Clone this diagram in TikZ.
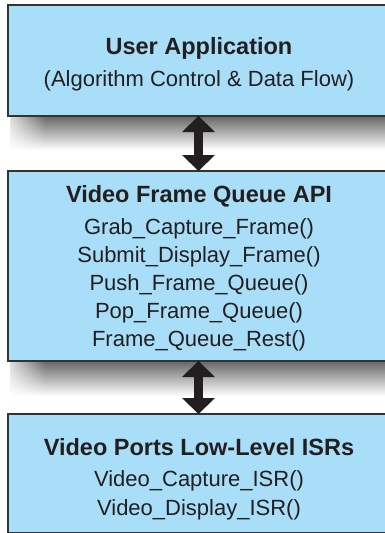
\documentclass[tikz,border=0pt]{standalone}
\usepackage{fontspec}
\setmainfont{Liberation Sans}
\usetikzlibrary{arrows.meta,fadings,calc}
\definecolor{boxblue}{RGB}{168,222,248}
\definecolor{edgegray}{RGB}{51,51,51}
\definecolor{ink}{RGB}{35,31,32}
\tikzfading[name=leftsolid, left color=transparent!0, right color=transparent!100]
\tikzset{
  layerbox/.style={draw=edgegray, line width=1.5pt, fill=boxblue, anchor=north west, inner sep=0pt, outer sep=0pt},
  ttl/.style={font=\bfseries\fontsize{23.5}{27}\selectfont, text=ink, anchor=base, inner sep=0pt},
  fnline/.style={font=\fontsize{22}{26}\selectfont, text=ink, anchor=base, inner sep=0pt},
  shadowband/.style={top color=black!60, middle color=black!14, bottom color=white},
  bigarrow/.style={ink, line width=9pt, {Triangle[width=33pt,length=16pt,line width=0pt]}-{Triangle[width=33pt,length=16pt,line width=0pt]}}
}
\begin{document}
\begin{tikzpicture}[x=1pt,y=-1pt]
\useasboundingbox (0,0) rectangle (385,533);
% shadows
\shade[shadowband] (10,116) rectangle (400,150);
\fill[white, path fading=leftsolid] (0,116) rectangle (45,152);
\shade[shadowband] (10,361) rectangle (400,396);
\fill[white, path fading=leftsolid] (0,361) rectangle (45,398);
% boxes
\node[layerbox, minimum width=392pt, minimum height=111pt] (b1) at (8,5) {};
\node[layerbox, minimum width=392pt, minimum height=190pt] (b2) at (8,171) {};
\node[layerbox, minimum width=392pt, minimum height=119pt] (b3) at (8,414) {};
% texts
\node[ttl] (t1) at (199,54) {User Application};
\node[fnline] (t1a) at (199,86.7) {(Algorithm Control \& Data Flow)};
\node[ttl] (t2) at (199,202.3) {Video Frame Queue API};
\node[fnline] (t2a) at (199,234) {Grab\_Capture\_Frame()};
\node[fnline] (t2b) at (199,262.3) {Submit\_Display\_Frame()};
\node[fnline] (t2c) at (199,290) {Push\_Frame\_Queue()};
\node[fnline] (t2d) at (199,318.3) {Pop\_Frame\_Queue()};
\node[fnline] (t2e) at (199,346) {Frame\_Queue\_Rest()};
\node[ttl] (t3) at (199,455) {Video Ports Low-Level ISRs};
\node[fnline] (t3a) at (199,486.7) {Video\_Capture\_ISR()};
\node[fnline] (t3b) at (199,515) {Video\_Display\_ISR()};
% arrows
\coordinate (ax) at (198.5,0);
\draw[bigarrow] (b1.south -| ax) -- (b2.north -| ax);
\draw[bigarrow] (b2.south -| ax) -- (b3.north -| ax);
\end{tikzpicture}
\end{document}
